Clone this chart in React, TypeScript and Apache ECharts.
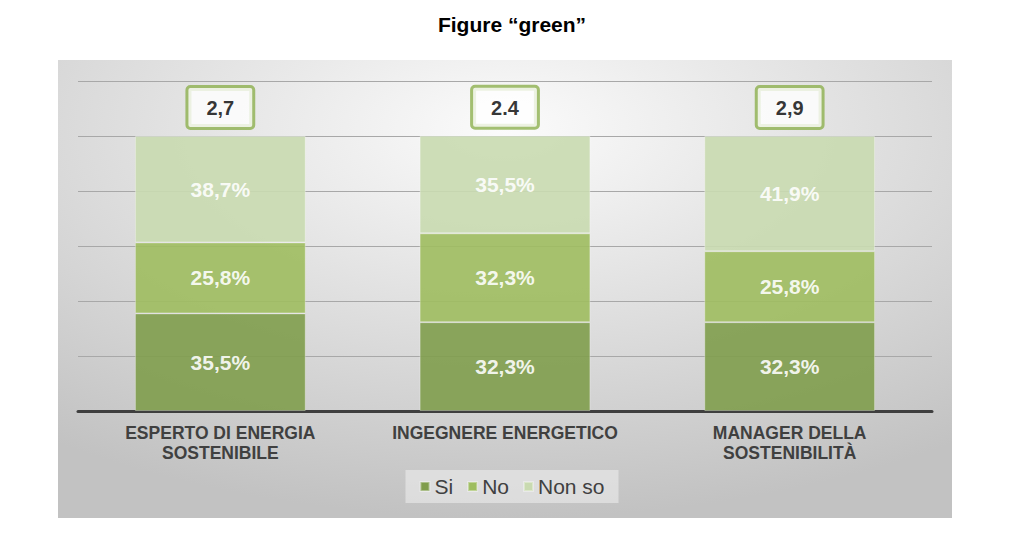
import React, { useEffect, useRef } from "react";
import * as echarts from "echarts";

const categories = [
  "ESPERTO DI ENERGIA\nSOSTENIBILE",
  "INGEGNERE ENERGETICO",
  "MANAGER DELLA\nSOSTENIBILITÀ",
];
const si = [35.5, 32.3, 32.3];
const no = [25.8, 32.3, 25.8];
const nonSo = [38.7, 35.5, 41.9];
const scores = ["2,7", "2.4", "2,9"];
const yTicks = [0, 20, 40, 60, 80, 100, 120];

const FONT = "'Liberation Sans', Arial, sans-serif";

export default function App() {
  const ref = useRef<HTMLDivElement>(null);
  useEffect(() => {
    if (!ref.current) return;
    const chart = echarts.init(ref.current, null, { renderer: "svg" });
    const fmt = (p: any) => String(p.value).replace(".", ",") + "%";
    const segLabel = {
      show: true,
      position: "inside",
      color: "#ffffff",
      fontSize: 21,
      fontWeight: "bold",
      fontFamily: FONT,
      formatter: fmt,
    };
    const mk = (name: string, data: number[], color: string) => ({
      name,
      type: "bar",
      stack: "tot",
      data,
      barWidth: "60%",
      itemStyle: {
        color,
        opacity: 0.9,
        borderColor: "rgba(255,255,255,0.35)",
        borderWidth: 1,
      },
      label: segLabel,
    });
    const totals = categories.map((_, i) => si[i] + no[i] + nonSo[i]);
    chart.setOption({
      animation: false,
      textStyle: { fontFamily: FONT },
      title: {
        text: "Figure “green”",
        left: "center",
        top: 9,
        textStyle: { fontSize: 21, fontWeight: "bold", color: "#000", fontFamily: FONT },
      },
      graphic: [
        {
          type: "rect",
          z: -10,
          silent: true,
          shape: { x: 58, y: 60, width: 894, height: 458 },
          style: {
            fill: new echarts.graphic.RadialGradient(0.5, 0.15, 0.85, [
              { offset: 0, color: "#fbfbfb" },
              { offset: 1, color: "#c2c2c2" },
            ]),
          },
        },
      ],
      grid: { left: 78, right: 92, top: 81, bottom: 131 },
      legend: {
        data: ["Si", "No", "Non so"],
        left: "center",
        top: 470,
        icon: "rect",
        itemWidth: 9,
        itemHeight: 9,
        itemGap: 14,
        itemStyle: { opacity: 1 },
        padding: [6, 14],
        backgroundColor: "rgba(236,236,236,0.6)",
        textStyle: { fontSize: 21, color: "#404040", fontFamily: FONT },
      },
      xAxis: {
        type: "category",
        data: categories,
        axisLine: { lineStyle: { color: "#3f3f3f", width: 3 } },
        axisTick: { show: false },
        axisLabel: {
          interval: 0,
          hideOverlap: false,
          color: "#404040",
          fontSize: 17.5,
          fontWeight: "bold",
          lineHeight: 20,
          margin: 12,
          fontFamily: FONT,
        },
      },
      yAxis: {
        type: "value",
        min: yTicks[0],
        max: yTicks[yTicks.length - 1],
        interval: 20,
        axisLabel: { show: false },
        axisLine: { show: false },
        axisTick: { show: false },
        splitLine: { lineStyle: { color: "#a8a8a8", width: 1 } },
      },
      series: [
        mk("Si", si, "#809D4C"),
        mk("No", no, "#9EBD5F"),
        mk("Non so", nonSo, "#C9DAB0"),
        {
          name: "score",
          type: "scatter",
          symbolSize: 0,
          data: totals.map((t, i) => [i, t]),
          label: {
            show: true,
            position: "top",
            distance: 9,
            formatter: (p: any) => scores[p.dataIndex],
            color: "#000",
            fontSize: 20,
            fontWeight: "bold",
            fontFamily: FONT,
            backgroundColor: "#ffffff",
            borderColor: "#8DB04F",
            borderWidth: 3,
            borderRadius: 2,
            padding: [10, 18, 9, 18],
          },
          z: 10,
        },
      ],
    });
    return () => chart.dispose();
  }, []);
  return (
    <div
      ref={ref}
      style={{ position: "absolute", left: 0, top: 0, width: 1024, height: 542 }}
    />
  );
}
